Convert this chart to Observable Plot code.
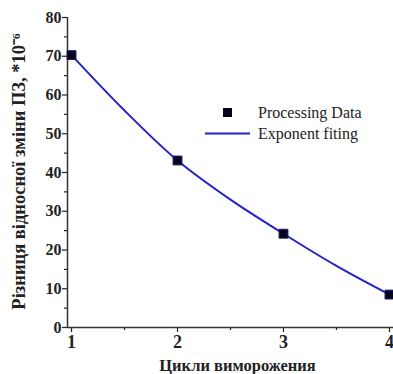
<!DOCTYPE html>
<html>
<head>
<meta charset="utf-8">
<script src="https://cdn.jsdelivr.net/npm/d3@7"></script>
<script src="https://cdn.jsdelivr.net/npm/@observablehq/plot@0.6"></script>
<style>
  body { margin: 0; background: #fff; }
  #wrap { position: relative; width: 393px; height: 374px; font-family: "Liberation Serif", "Times New Roman", serif; }
  #wrap svg, #wrap svg text, #wrap svg g { font-family: "Liberation Serif", "Times New Roman", serif !important; }
  .legend { position: absolute; left: 203px; top: 102px; font-size: 16px; color: #222; }
  .legend .row { position: relative; height: 21px; line-height: 21px; }
  .legend .sym { position: absolute; left: 0; width: 48px; height: 21px; }
  .legend .txt { position: absolute; left: 55px; white-space: nowrap; }
</style>
</head>
<body>
<div id="wrap"></div>
<script>
// Data
const cycles = [1, 2, 3, 4];
const values = [70.3, 43.1, 24.2, 8.5];
// Fitted exponential curve
const fitX = [1, 1.5, 2, 2.5, 3, 3.5, 4];
const fitY = [70.3, 56.0, 43.1, 33.0, 24.2, 15.9, 8.5];
// Ticks
const yTicks = [0, 10, 20, 30, 40, 50, 60, 70, 80];
const yMinor = [5, 15, 25, 35, 45, 55, 65, 75];
const xTicks = [1, 2, 3, 4];
const xMinor = [1.5, 2.5, 3.5];
const yLabel = "Різниця відносної зміни ПЗ, *10⁻⁶";
const xLabel = "Цикли виморожения";
const legendLabels = ["Processing Data", "Exponent fiting"];

const points = cycles.map((c, i) => ({x: c, y: values[i]}));
const fit = fitX.map((c, i) => ({x: c, y: fitY[i]}));

const lineColor = "#2323c8";
const xDomain = [0.962, 4.038];

const chart = Plot.plot({
  width: 393,
  height: 374,
  marginLeft: 67,
  marginRight: 0,
  marginTop: 17,
  marginBottom: 47,
  style: "font-family: 'Liberation Serif', serif; color: #222; background: transparent;",
  x: {domain: xDomain},
  y: {domain: [0, 80]},
  marks: [
    Plot.axisY(yTicks, {tickSize: 5, tickPadding: 1, fontSize: 16, fontWeight: "bold", label: null, strokeWidth: 1.2}),
    Plot.axisY(yMinor, {tickSize: 3, tickFormat: () => "", label: null, strokeWidth: 1.2}),
    Plot.axisX(xTicks, {tickSize: 5, tickPadding: 3, fontSize: 18, fontWeight: "bold", label: null, strokeWidth: 1.2}),
    Plot.axisX(xMinor, {tickSize: 3, tickFormat: () => "", label: null, strokeWidth: 1.2}),
    Plot.ruleY([0], {stroke: "#333", strokeWidth: 1.5}),
    Plot.ruleX([xDomain[0]], {stroke: "#333", strokeWidth: 1.5}),
    Plot.line(fit, {x: "x", y: "y", curve: "catmull-rom", stroke: lineColor, strokeWidth: 2}),
    Plot.dot(points, {x: "x", y: "y", symbol: "square", r: 5, fill: "#050520", stroke: "#1a1a60", strokeWidth: 1}),
    Plot.text([yLabel], {frameAnchor: "left", textAnchor: "middle", lineAnchor: "middle", dx: -48, dy: -1, rotate: -90, fontSize: 18.5, fontWeight: "bold", fill: "#222"}),
    Plot.text([xLabel], {frameAnchor: "bottom", textAnchor: "middle", lineAnchor: "middle", dx: 7, dy: 38, fontSize: 16.5, fontWeight: "bold", fill: "#222"})
  ]
});

const wrap = document.getElementById("wrap");
wrap.appendChild(chart);

const legend = document.createElement("div");
legend.className = "legend";
legend.innerHTML = `
  <div class="row"><svg class="sym" width="48" height="21"><rect x="20" y="6" width="9" height="9" fill="#050520"/></svg><span class="txt">${legendLabels[0]}</span></div>
  <div class="row"><svg class="sym" width="48" height="21"><line x1="2" y1="10.5" x2="47" y2="10.5" stroke="${lineColor}" stroke-width="2"/></svg><span class="txt">${legendLabels[1]}</span></div>
`;
wrap.appendChild(legend);
</script>
</body>
</html>
